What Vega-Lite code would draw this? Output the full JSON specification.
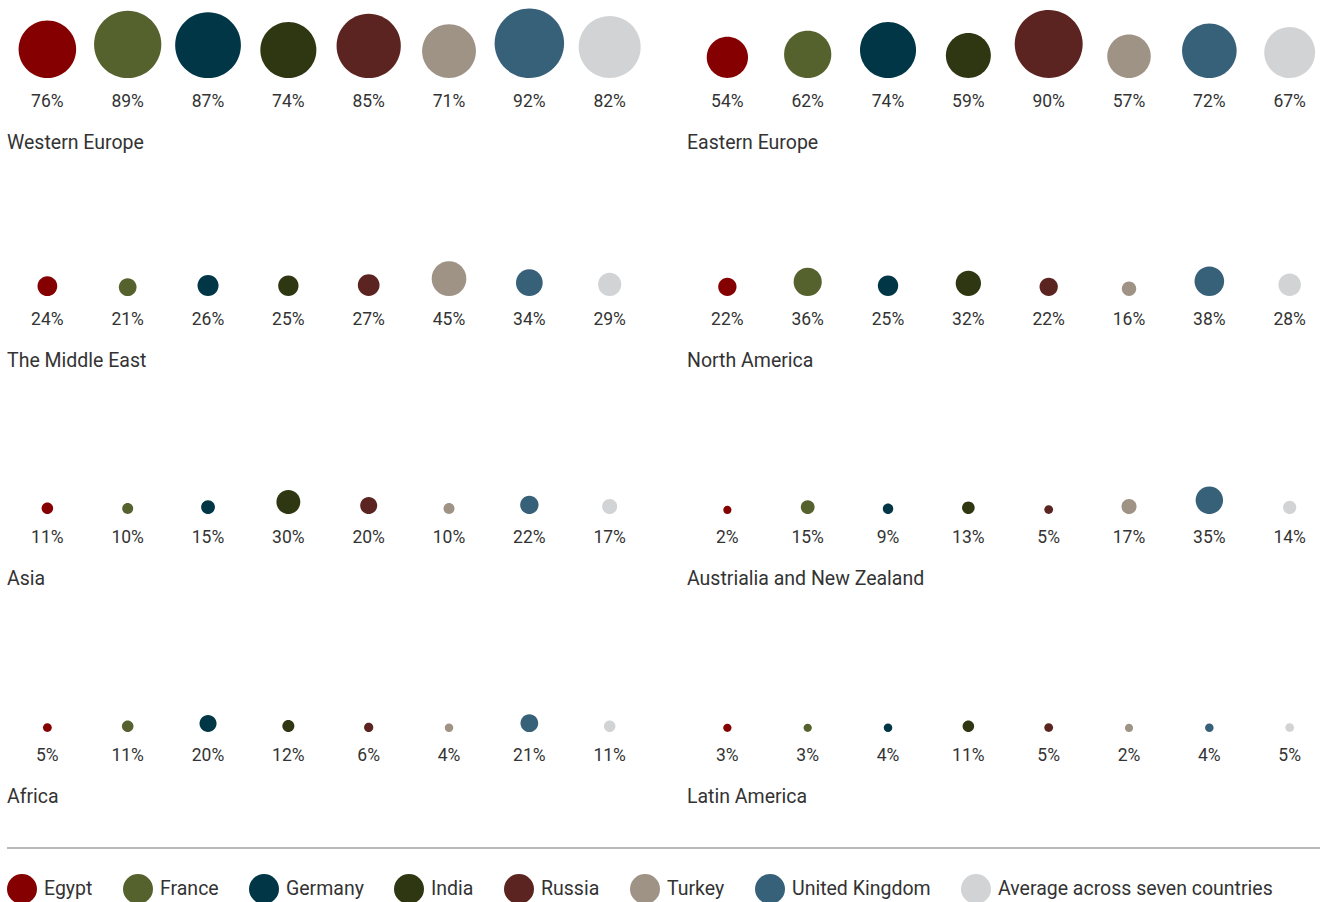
{
  "$schema": "https://vega.github.io/schema/vega-lite/v6.json",
  "padding": {"left": 6, "top": 0, "right": 0, "bottom": 0},
  "background": "white",
  "spacing": 41,
  "config": {"view": {"stroke": null}, "font": "Roboto"},
  "vconcat": [
    {
      "data": {"values": [
        {"region": "Western Europe", "country": "Egypt", "value": 0.76},
        {"region": "Western Europe", "country": "France", "value": 0.89},
        {"region": "Western Europe", "country": "Germany", "value": 0.87},
        {"region": "Western Europe", "country": "India", "value": 0.74},
        {"region": "Western Europe", "country": "Russia", "value": 0.85},
        {"region": "Western Europe", "country": "Turkey", "value": 0.71},
        {"region": "Western Europe", "country": "United Kingdom", "value": 0.92},
        {"region": "Western Europe", "country": "Average across seven countries", "value": 0.82},
        {"region": "Eastern Europe", "country": "Egypt", "value": 0.54},
        {"region": "Eastern Europe", "country": "France", "value": 0.62},
        {"region": "Eastern Europe", "country": "Germany", "value": 0.74},
        {"region": "Eastern Europe", "country": "India", "value": 0.59},
        {"region": "Eastern Europe", "country": "Russia", "value": 0.90},
        {"region": "Eastern Europe", "country": "Turkey", "value": 0.57},
        {"region": "Eastern Europe", "country": "United Kingdom", "value": 0.72},
        {"region": "Eastern Europe", "country": "Average across seven countries", "value": 0.67},
        {"region": "The Middle East", "country": "Egypt", "value": 0.24},
        {"region": "The Middle East", "country": "France", "value": 0.21},
        {"region": "The Middle East", "country": "Germany", "value": 0.26},
        {"region": "The Middle East", "country": "India", "value": 0.25},
        {"region": "The Middle East", "country": "Russia", "value": 0.27},
        {"region": "The Middle East", "country": "Turkey", "value": 0.45},
        {"region": "The Middle East", "country": "United Kingdom", "value": 0.34},
        {"region": "The Middle East", "country": "Average across seven countries", "value": 0.29},
        {"region": "North America", "country": "Egypt", "value": 0.22},
        {"region": "North America", "country": "France", "value": 0.36},
        {"region": "North America", "country": "Germany", "value": 0.25},
        {"region": "North America", "country": "India", "value": 0.32},
        {"region": "North America", "country": "Russia", "value": 0.22},
        {"region": "North America", "country": "Turkey", "value": 0.16},
        {"region": "North America", "country": "United Kingdom", "value": 0.38},
        {"region": "North America", "country": "Average across seven countries", "value": 0.28},
        {"region": "Asia", "country": "Egypt", "value": 0.11},
        {"region": "Asia", "country": "France", "value": 0.10},
        {"region": "Asia", "country": "Germany", "value": 0.15},
        {"region": "Asia", "country": "India", "value": 0.30},
        {"region": "Asia", "country": "Russia", "value": 0.20},
        {"region": "Asia", "country": "Turkey", "value": 0.10},
        {"region": "Asia", "country": "United Kingdom", "value": 0.22},
        {"region": "Asia", "country": "Average across seven countries", "value": 0.17},
        {"region": "Austrialia and New Zealand", "country": "Egypt", "value": 0.02},
        {"region": "Austrialia and New Zealand", "country": "France", "value": 0.15},
        {"region": "Austrialia and New Zealand", "country": "Germany", "value": 0.09},
        {"region": "Austrialia and New Zealand", "country": "India", "value": 0.13},
        {"region": "Austrialia and New Zealand", "country": "Russia", "value": 0.05},
        {"region": "Austrialia and New Zealand", "country": "Turkey", "value": 0.17},
        {"region": "Austrialia and New Zealand", "country": "United Kingdom", "value": 0.35},
        {"region": "Austrialia and New Zealand", "country": "Average across seven countries", "value": 0.14},
        {"region": "Africa", "country": "Egypt", "value": 0.05},
        {"region": "Africa", "country": "France", "value": 0.11},
        {"region": "Africa", "country": "Germany", "value": 0.20},
        {"region": "Africa", "country": "India", "value": 0.12},
        {"region": "Africa", "country": "Russia", "value": 0.06},
        {"region": "Africa", "country": "Turkey", "value": 0.04},
        {"region": "Africa", "country": "United Kingdom", "value": 0.21},
        {"region": "Africa", "country": "Average across seven countries", "value": 0.11},
        {"region": "Latin America", "country": "Egypt", "value": 0.03},
        {"region": "Latin America", "country": "France", "value": 0.03},
        {"region": "Latin America", "country": "Germany", "value": 0.04},
        {"region": "Latin America", "country": "India", "value": 0.11},
        {"region": "Latin America", "country": "Russia", "value": 0.05},
        {"region": "Latin America", "country": "Turkey", "value": 0.02},
        {"region": "Latin America", "country": "United Kingdom", "value": 0.04},
        {"region": "Latin America", "country": "Average across seven countries", "value": 0.05}
      ]},
      "facet": {
        "field": "region",
        "type": "nominal",
        "sort": ["Western Europe", "Eastern Europe", "The Middle East", "North America", "Asia", "Austrialia and New Zealand", "Africa", "Latin America"],
        "header": {"title": null, "labelOrient": "bottom", "labelAnchor": "start", "labelAlign": "left", "labelFontSize": 19.5, "labelFont": "Roboto", "labelColor": "#333333", "labelPadding": 23}
      },
      "columns": 2,
      "spacing": {"column": 46, "row": 66},
      "spec": {
        "width": 633,
        "height": 78,
        "encoding": {
          "x": {"field": "country", "type": "nominal", "sort": ["Egypt", "France", "Germany", "India", "Russia", "Turkey", "United Kingdom", "Average across seven countries"], "scale": {"type": "point", "padding": 0.44, "align": 0.571}, "axis": null},
          "y": {"datum": 0, "type": "quantitative", "scale": {"domain": [0, 1]}, "axis": null}
        },
        "layer": [
          {
            "mark": {"type": "point", "filled": true, "opacity": 1, "strokeWidth": 0, "shape": "M0,0A1,1,0,1,1,0,-2A1,1,0,1,1,0,0Z"},
            "encoding": {
              "color": {"field": "country", "type": "nominal", "scale": {"domain": ["Egypt", "France", "Germany", "India", "Russia", "Turkey", "United Kingdom", "Average across seven countries"], "range": ["#850000", "#55622E", "#003646", "#2E3711", "#5C2420", "#9E9385", "#376079", "#D2D3D5"]}, "legend": {"title": null, "orient": "bottom", "direction": "horizontal", "symbolType": "circle", "symbolSize": 900, "symbolStrokeWidth": 0, "labelFontSize": 19.5, "labelFont": "Roboto", "labelColor": "#333333", "labelOffset": 7, "columnPadding": 30, "padding": 0, "offset": 25, "labelLimit": 400}},
              "size": {"field": "value", "type": "quantitative", "scale": {"type": "pow", "exponent": 2, "domain": [0, 1], "range": [64, 5689]}, "legend": null}
            }
          },
          {
            "mark": {"type": "text", "dy": 24, "fontSize": 17.5, "font": "Roboto", "color": "#333333", "baseline": "middle", "align": "center"},
            "encoding": {
              "text": {"field": "value", "type": "quantitative", "format": ".0%"}
            }
          }
        ]
      }
    },
    {
      "data": {"values": [{}]},
      "width": 1314,
      "height": 1,
      "mark": {"type": "rule", "color": "#777777", "strokeWidth": 1.2},
      "encoding": {"y": {"datum": 0, "type": "quantitative", "axis": null}}
    }
  ]
}
